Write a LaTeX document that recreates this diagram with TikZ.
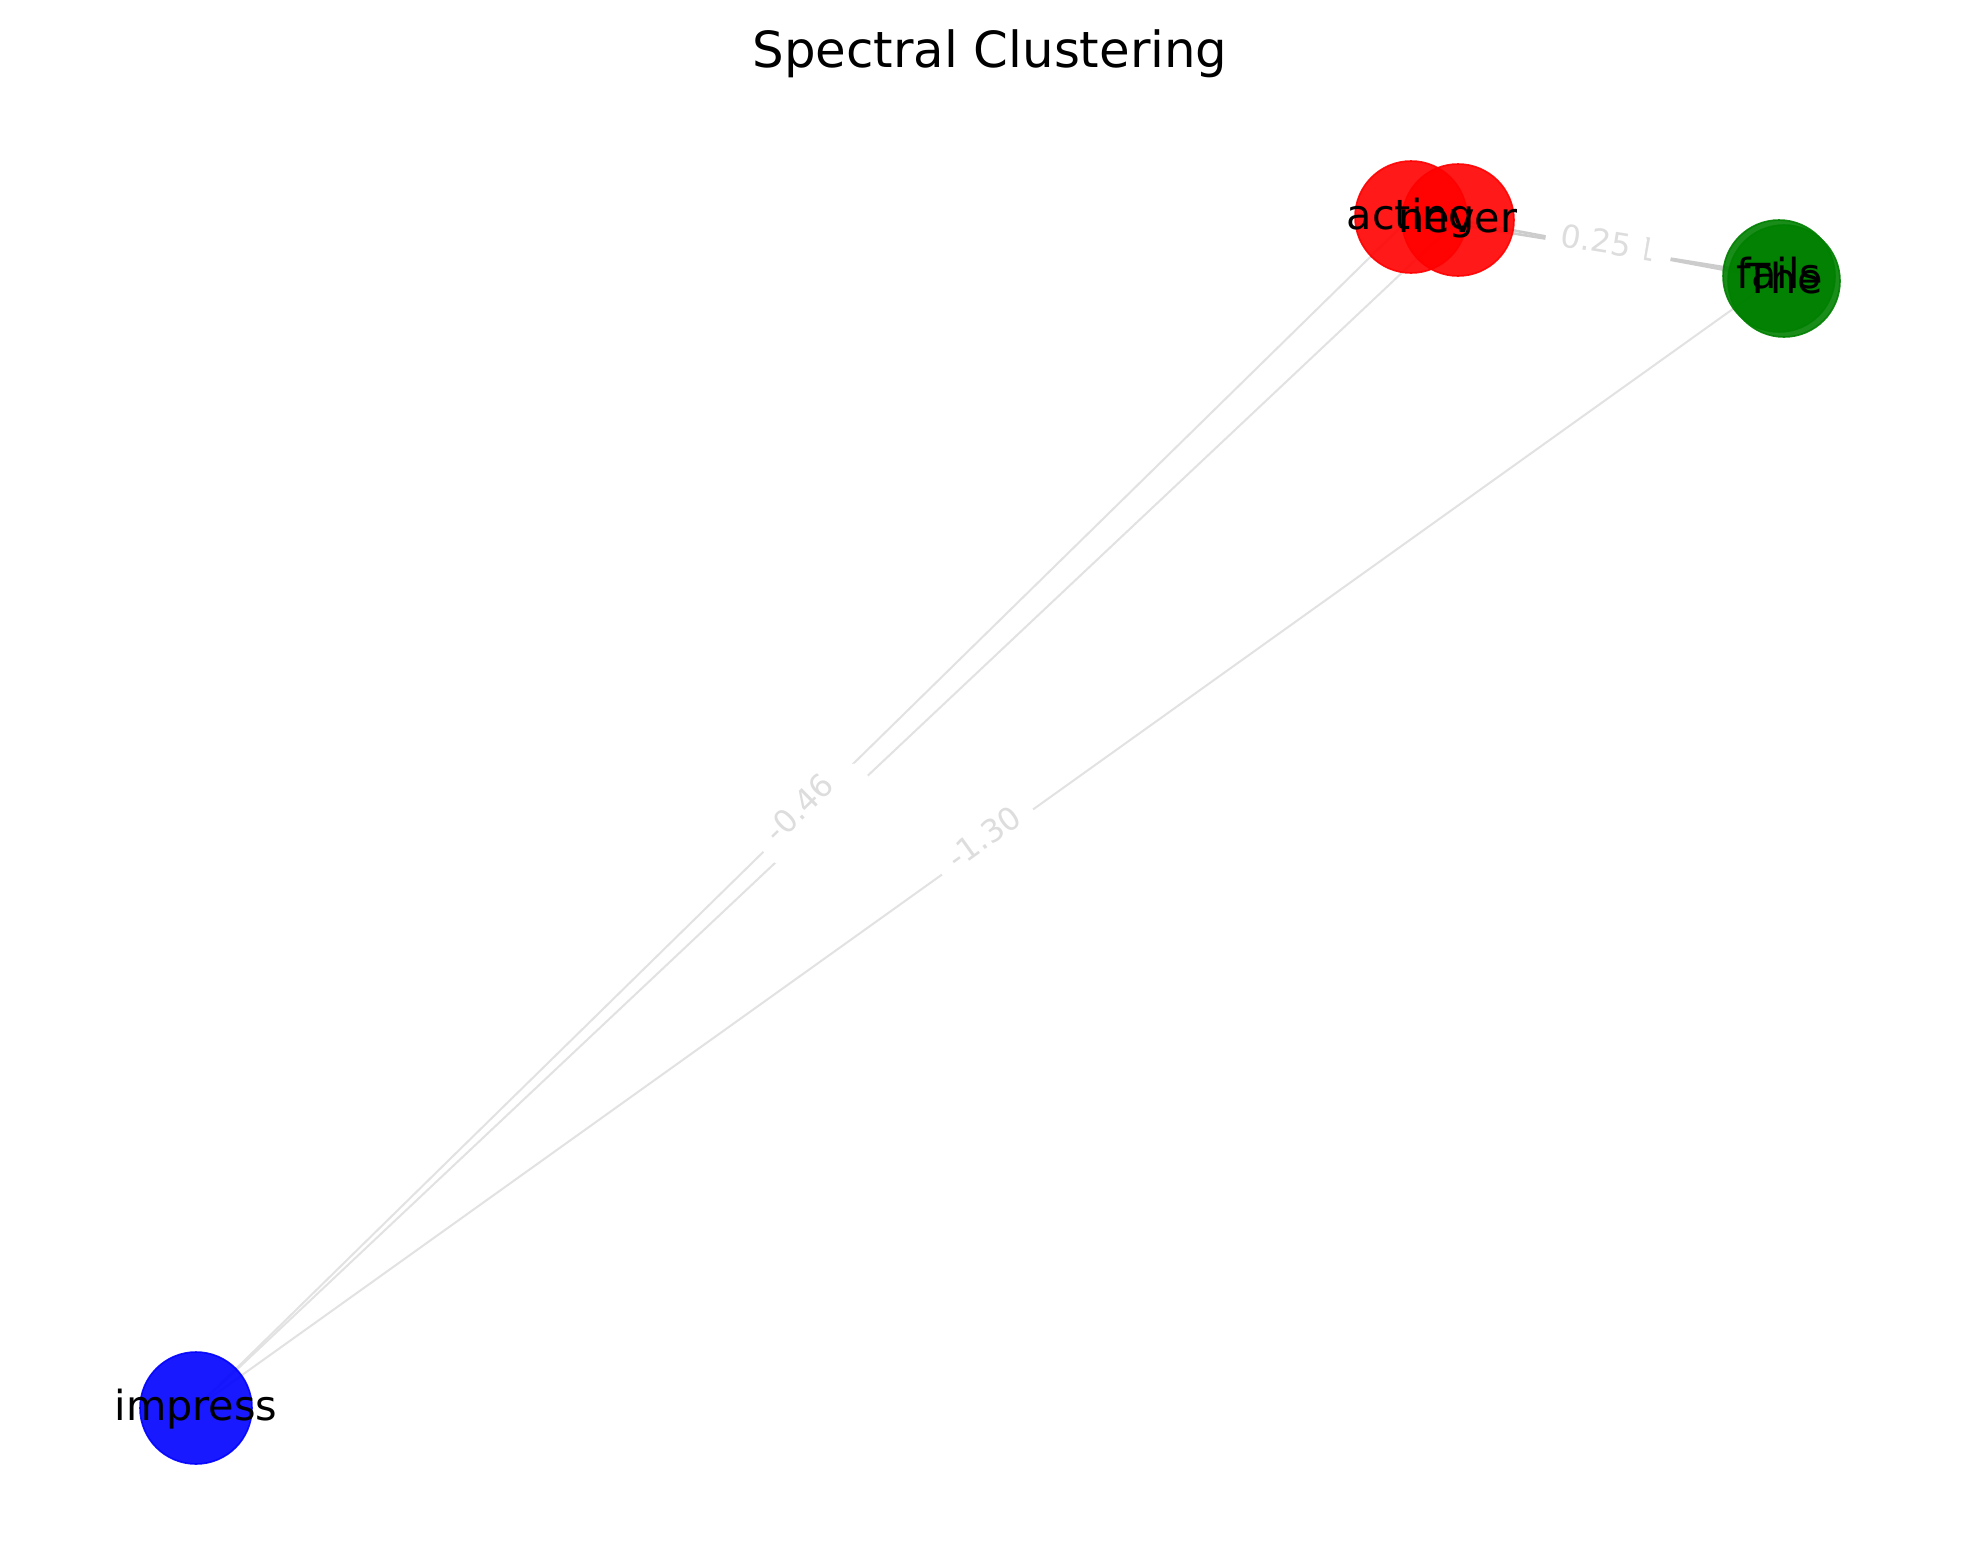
\documentclass[tikz,border=0pt]{standalone}
\usepackage{fontspec}
\setmainfont{DejaVu Sans}
\usetikzlibrary{backgrounds}
\definecolor{nred}{RGB}{255,0,0}
\definecolor{ngreen}{RGB}{0,128,0}
\definecolor{nblue}{RGB}{0,0,255}
\definecolor{edgegray}{RGB}{226,226,226}
\definecolor{edgedark}{RGB}{204,204,204}
\definecolor{lblgray}{RGB}{221,221,221}
\tikzset{
  vertex/.style={circle, minimum size=56pt, inner sep=0pt, fill opacity=0.9, draw opacity=0.9, line width=0.8pt},
  vlabel/.style={inner sep=0pt, text height=0.76em, text depth=0.24em, font=\fontsize{20.7}{24}\selectfont, text=black, yshift=-3.5pt},
  edgeline/.style={draw=edgegray, line width=1pt},
  edgestrong/.style={draw=edgedark, line width=1.3pt},
  elabel/.style={sloped, fill=white, text=lblgray, font=\fontsize{15.8}{19}\selectfont, inner xsep=7.5pt, inner ysep=5pt, rounded corners=3pt, text height=0.76em, text depth=0.24em},
  titletext/.style={font=\fontsize{24.9}{30}\selectfont, anchor=base, text=black}
}
\begin{document}
\begin{tikzpicture}[x=0.5pt,y=-0.5pt]
\useasboundingbox (0,0) rectangle (1980,1563);
\node[titletext] (title) at (990,67.5) {Spectral Clustering};
% nodes
\node[vertex, fill=nblue, draw=nblue] (impress) at (196,1408) {};
\node[vertex, fill=nred, draw=nred] (acting) at (1411,217) {};
\node[vertex, fill=nred, draw=nred] (never) at (1458,220) {};
\node[vertex, fill=ngreen, draw=ngreen] (fails) at (1779,276) {};
\node[vertex, fill=ngreen, draw=ngreen] (the) at (1784,281) {};
% edges below nodes
\begin{pgfonlayer}{background}
\fill[white] (0,0) rectangle (1980,1563);
\draw[edgeline] (impress.center) -- (acting.center);
\draw[edgeline] (impress.center) -- (never.center);
\draw[edgeline] (impress.center) -- (fails.center);
\draw[edgestrong] (acting.center) -- (fails.center);
\draw[edgestrong] (never.center) -- (the.center);
\end{pgfonlayer}
% edge labels
\path (never.center) -- (the.center) node[elabel, midway] (l1) {0.21};
\path (acting.center) -- (fails.center) node[elabel, midway] (l2) {0.25};
\path (impress.center) -- (never.center) node[elabel, midway] (l3) {\phantom{-0.46}};
\path (impress.center) -- (acting.center) node[elabel, midway] (l4) {-0.46};
\path (impress.center) -- (fails.center) node[elabel, midway] (l5) {-1.30};
% node labels
\node[vlabel] (impress-t) at (impress) {impress};
\node[vlabel] (acting-t) at (acting) {acting};
\node[vlabel] (never-t) at (never) {never};
\node[vlabel] (fails-t) at (fails) {fails};
\node[vlabel] (the-t) at (the) {The};
\end{tikzpicture}
\end{document}
